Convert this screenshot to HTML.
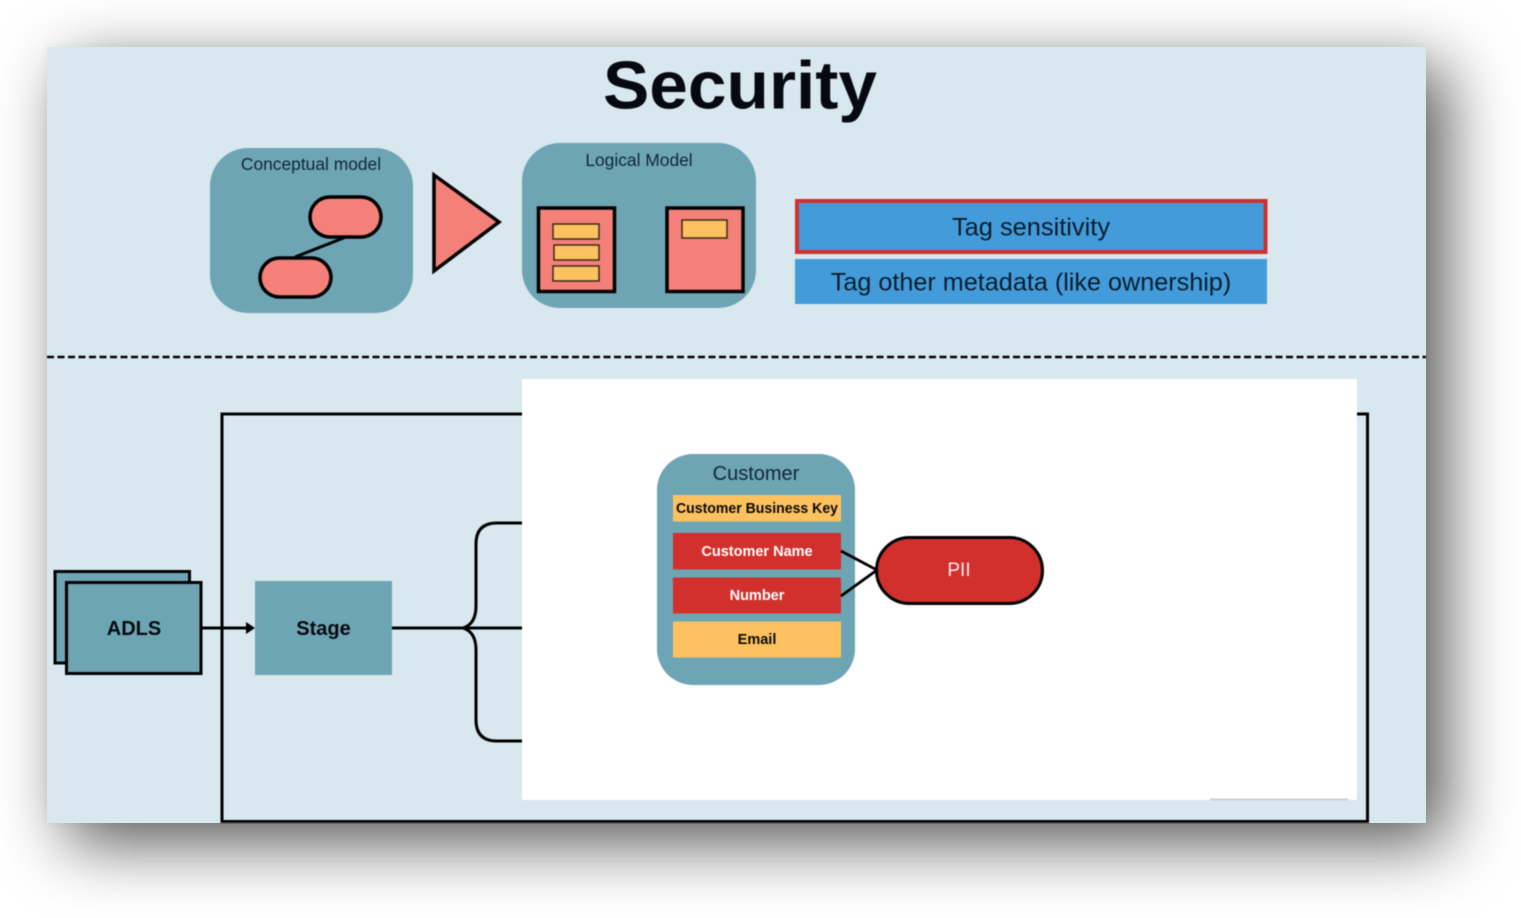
<!DOCTYPE html>
<html><head><meta charset="utf-8"><style>
html,body{margin:0;padding:0;background:#fff;width:1521px;height:918px;overflow:hidden}
#p{position:absolute;left:47px;top:47px;width:1379px;height:776px;background:#d9e7ef;box-shadow:20px 20px 62px rgba(0,0,0,.66),0 0 10px rgba(0,0,0,.04)}
svg{position:absolute;left:0;top:0;filter:blur(.45px)}
text{font-family:"Liberation Sans",sans-serif;text-anchor:middle}
</style></head><body><div id="p"></div>
<svg width="1521" height="918" viewBox="0 0 1521 918">
<text x="740" y="108.500" font-size="68" font-weight="700" fill="#060a10" textLength="274" lengthAdjust="spacingAndGlyphs">Security</text>

<rect x="210" y="148" width="203" height="165" rx="38" fill="#6ea5b4"/>
<text x="311" y="170" font-size="17.400" fill="#10263a">Conceptual model</text>
<line x1="346" y1="237" x2="295" y2="257" stroke="#000" stroke-width="3"/>
<rect x="310" y="197" width="71" height="40" rx="20" fill="#f4807a" stroke="#000" stroke-width="3.500"/>
<rect x="260" y="258" width="71" height="39" rx="19.500" fill="#f4807a" stroke="#000" stroke-width="3.500"/>

<polygon points="434,175 434,271 499,222" fill="#f4807a" stroke="#000" stroke-width="3.500"/>

<rect x="522" y="143" width="234" height="165" rx="38" fill="#6ea5b4"/>
<text x="639" y="166" font-size="17.400" fill="#10263a">Logical Model</text>
<rect x="538.500" y="208" width="76" height="83.500" fill="#f4807a" stroke="#000" stroke-width="3.500"/>
<rect x="667" y="208" width="76" height="83.500" fill="#f4807a" stroke="#000" stroke-width="3.500"/>
<g fill="#fdc25f" stroke="#3a2a18" stroke-width="1.500">
<rect x="553" y="224" width="46" height="15"/>
<rect x="554" y="245" width="45" height="15"/>
<rect x="553" y="266" width="46" height="15"/>
<rect x="682" y="220" width="45" height="18"/>
</g>

<rect x="797" y="201" width="468.500" height="51" fill="#439cd9" stroke="#d1302c" stroke-width="4"/>
<text x="1031" y="235.500" font-size="25.400" fill="#0c1c30">Tag sensitivity</text>
<rect x="795" y="259" width="472" height="45" fill="#439cd9"/>
<text x="1031" y="290.500" font-size="25.200" fill="#0c1c30">Tag other metadata (like ownership)</text>

<line x1="47" y1="357" x2="1426" y2="357" stroke="#000" stroke-width="2.500" stroke-dasharray="7 3.500"/>

<rect x="222" y="414" width="1145.500" height="407.500" fill="none" stroke="#000" stroke-width="3"/>

<rect x="55" y="571.500" width="134.500" height="91.500" fill="#6ea5b4" stroke="#000" stroke-width="3"/>
<rect x="66.500" y="582.500" width="134.500" height="91" fill="#6ea5b4" stroke="#000" stroke-width="3"/>
<text x="134" y="635" font-size="20" font-weight="700" fill="#060a10">ADLS</text>
<line x1="201" y1="628" x2="248" y2="628" stroke="#000" stroke-width="3"/>
<polygon points="246,622 255,628 246,634" fill="#000"/>
<rect x="255" y="581" width="137" height="94" fill="#6ea5b4"/>
<text x="323.500" y="635" font-size="20" font-weight="700" fill="#060a10">Stage</text>
<line x1="392" y1="628" x2="525" y2="628" stroke="#000" stroke-width="3"/>
<path d="M525 523H497Q476 523 476 544V606Q476 624 463 628Q476 632 476 650V720Q476 741 497 741H525" fill="none" stroke="#000" stroke-width="3"/>

<rect x="522" y="379" width="835" height="421" fill="#fff"/>
<line x1="1210" y1="799.500" x2="1348" y2="799.500" stroke="#c4c4c8" stroke-width="1.500"/>

<rect x="657" y="454" width="198" height="231" rx="36" fill="#6ea5b4"/>
<text x="756" y="480" font-size="20" fill="#10263a">Customer</text>
<rect x="673" y="495" width="168" height="26.500" fill="#fdc25f"/>
<text x="757" y="513" font-size="14.500" font-weight="700" fill="#0a0a0a" textLength="162" lengthAdjust="spacingAndGlyphs">Customer Business Key</text>
<rect x="673" y="533" width="168" height="36.500" fill="#d1302c"/>
<text x="757" y="556" font-size="14.500" font-weight="700" fill="#fff">Customer Name</text>
<rect x="673" y="577.500" width="168" height="36" fill="#d1302c"/>
<text x="757" y="600" font-size="14.500" font-weight="700" fill="#fff">Number</text>
<rect x="673" y="621.500" width="168" height="36" fill="#fdc25f"/>
<text x="757" y="644" font-size="14.500" font-weight="700" fill="#0a0a0a">Email</text>
<path d="M841 551L877 570L841 596" fill="none" stroke="#000" stroke-width="2.800"/>
<rect x="876.500" y="537.500" width="166" height="66" rx="33" fill="#d1302c" stroke="#000" stroke-width="3"/>
<text x="959" y="576" font-size="19" fill="#fbeaea">PII</text>
</svg></body></html>
